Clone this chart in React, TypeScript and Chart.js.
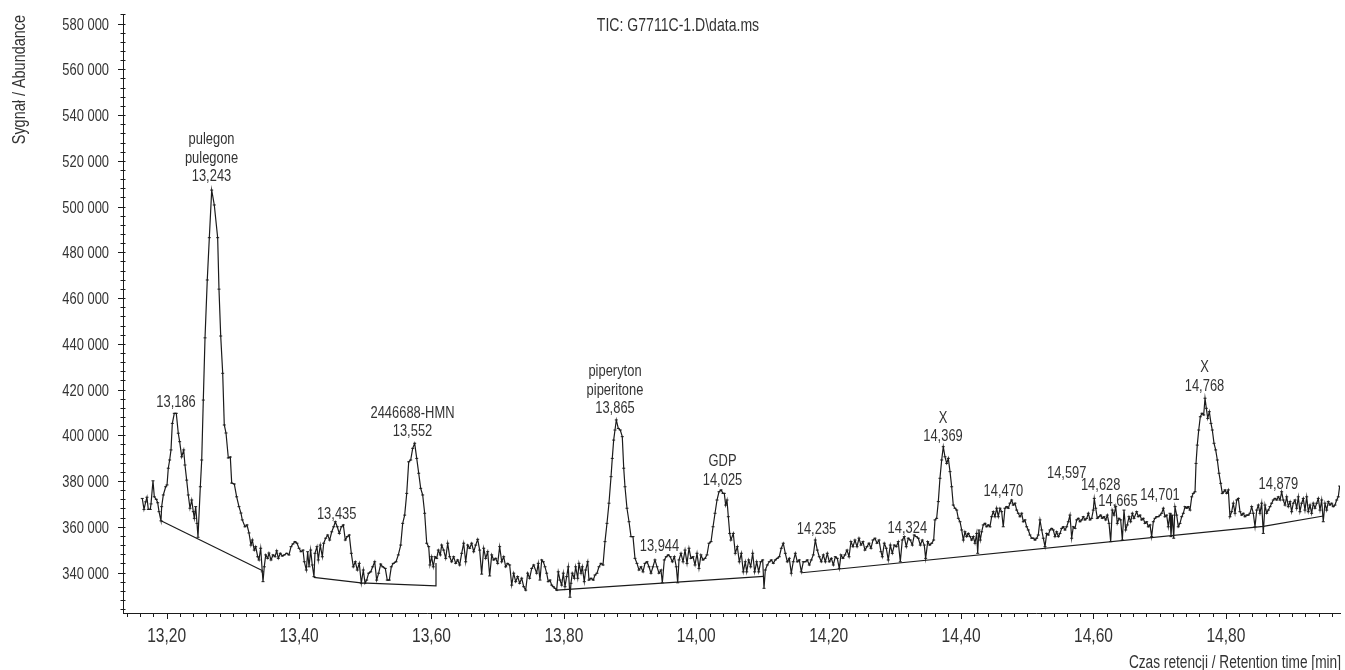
import React, { useEffect, useRef } from 'react';
import { Chart, registerables } from 'chart.js';

Chart.register(...registerables);

// Retention time [min]
const retentionTimes = [
  13.1631,13.1657,13.1683,13.1702,13.1722,13.1752,13.1763,13.1793,13.1813,13.1843,
  13.1864,13.1884,13.1914,13.1924,13.1949,13.1985,13.2005,13.2024,13.2045,13.2065,
  13.2085,13.2115,13.2145,13.2175,13.2196,13.2227,13.2257,13.2276,13.2302,13.2326,
  13.2352,13.2378,13.2402,13.2417,13.2438,13.2458,13.2473,13.2508,13.2529,13.2553,
  13.2579,13.2613,13.2644,13.2680,13.2719,13.2770,13.2790,13.2816,13.2846,13.2870,
  13.2896,13.2931,13.2961,13.2982,13.3021,13.3057,13.3092,13.3122,13.3142,13.3183,
  13.3213,13.3243,13.3273,13.3293,13.3323,13.3344,13.3375,13.3394,13.3420,13.3444,
  13.3455,13.3474,13.3496,13.3526,13.3545,13.3576,13.3606,13.3636,13.3662,13.3686,
  13.3716,13.3746,13.3776,13.3813,13.3847,13.3878,13.3908,13.3938,13.3968,13.3999,
  13.4029,13.4059,13.4079,13.4109,13.4130,13.4150,13.4175,13.4199,13.4225,13.4240,
  13.4270,13.4290,13.4320,13.4351,13.4372,13.4402,13.4432,13.4462,13.4493,13.4523,
  13.4547,13.4577,13.4607,13.4638,13.4668,13.4698,13.4728,13.4758,13.4789,13.4819,
  13.4849,13.4879,13.4909,13.4940,13.4970,13.4996,13.5021,13.5051,13.5082,13.5112,
  13.5142,13.5172,13.5202,13.5233,13.5263,13.5302,13.5332,13.5363,13.5393,13.5423,
  13.5464,13.5499,13.5535,13.5565,13.5595,13.5626,13.5656,13.5686,13.5716,13.5746,
  13.5777,13.5807,13.5837,13.5867,13.5897,13.5928,13.5958,13.5977,13.6003,13.6027,
  13.6053,13.6079,13.6103,13.6133,13.6154,13.6184,13.6215,13.6245,13.6275,13.6305,
  13.6335,13.6366,13.6396,13.6426,13.6456,13.6486,13.6517,13.6547,13.6577,13.6607,
  13.6638,13.6668,13.6698,13.6728,13.6758,13.6789,13.6819,13.6849,13.6879,13.6910,
  13.6940,13.6970,13.7000,13.7030,13.7061,13.7091,13.7121,13.7151,13.7181,13.7212,
  13.7242,13.7272,13.7302,13.7332,13.7363,13.7393,13.7423,13.7453,13.7483,13.7514,
  13.7544,13.7589,13.7613,13.7639,13.7665,13.7689,13.7715,13.7740,13.7764,13.7790,
  13.7816,13.7840,13.7866,13.7891,13.7915,13.7941,13.7967,13.7991,13.8017,13.8042,
  13.8066,13.8092,13.8107,13.8127,13.8157,13.8178,13.8209,13.8228,13.8259,13.8278,
  13.8308,13.8329,13.8360,13.8379,13.8410,13.8444,13.8470,13.8500,13.8530,13.8561,
  13.8591,13.8621,13.8651,13.8681,13.8712,13.8731,13.8752,13.8772,13.8792,13.8822,
  13.8852,13.8882,13.8904,13.8923,13.8953,13.8984,13.9014,13.9044,13.9074,13.9104,
  13.9135,13.9165,13.9195,13.9225,13.9256,13.9286,13.9316,13.9346,13.9376,13.9407,
  13.9437,13.9467,13.9487,13.9517,13.9547,13.9577,13.9607,13.9638,13.9668,13.9698,
  13.9719,13.9739,13.9769,13.9800,13.9830,13.9860,13.9890,13.9920,13.9951,13.9981,
  14.0011,14.0041,14.0071,14.0102,14.0132,14.0162,14.0192,14.0223,14.0253,14.0283,
  14.0313,14.0343,14.0374,14.0404,14.0423,14.0444,14.0464,14.0484,14.0505,14.0524,
  14.0559,14.0589,14.0620,14.0650,14.0680,14.0710,14.0740,14.0762,14.0792,14.0822,
  14.0852,14.0882,14.0913,14.0943,14.0973,14.1003,14.1023,14.1043,14.1073,14.1103,
  14.1133,14.1163,14.1194,14.1224,14.1254,14.1284,14.1314,14.1345,14.1375,14.1405,
  14.1435,14.1465,14.1496,14.1526,14.1556,14.1586,14.1617,14.1647,14.1677,14.1707,
  14.1737,14.1768,14.1798,14.1828,14.1858,14.1888,14.1919,14.1949,14.1979,14.2009,
  14.2040,14.2070,14.2100,14.2130,14.2160,14.2186,14.2216,14.2246,14.2277,14.2307,
  14.2337,14.2367,14.2397,14.2428,14.2458,14.2488,14.2518,14.2548,14.2579,14.2609,
  14.2639,14.2669,14.2699,14.2730,14.2760,14.2790,14.2810,14.2840,14.2870,14.2900,
  14.2931,14.2961,14.2991,14.3021,14.3051,14.3082,14.3112,14.3142,14.3172,14.3203,
  14.3233,14.3263,14.3293,14.3323,14.3354,14.3384,14.3414,14.3444,14.3465,14.3496,
  14.3526,14.3556,14.3586,14.3606,14.3631,14.3656,14.3681,14.3707,14.3731,14.3757,
  14.3783,14.3807,14.3833,14.3858,14.3882,14.3908,14.3934,14.3958,14.3984,14.4009,
  14.4034,14.4059,14.4085,14.4109,14.4135,14.4160,14.4184,14.4210,14.4236,14.4251,
  14.4270,14.4290,14.4311,14.4335,14.4361,14.4386,14.4410,14.4436,14.4462,14.4486,
  14.4512,14.4538,14.4562,14.4588,14.4613,14.4637,14.4663,14.4689,14.4713,14.4739,
  14.4764,14.4788,14.4814,14.4840,14.4864,14.4890,14.4916,14.4940,14.4965,14.4991,
  14.5015,14.5041,14.5067,14.5091,14.5117,14.5142,14.5166,14.5192,14.5218,14.5242,
  14.5268,14.5293,14.5318,14.5343,14.5369,14.5393,14.5419,14.5444,14.5469,14.5494,
  14.5520,14.5544,14.5570,14.5595,14.5620,14.5645,14.5671,14.5695,14.5721,14.5747,
  14.5771,14.5797,14.5822,14.5846,14.5872,14.5898,14.5922,14.5948,14.5973,14.5997,
  14.6012,14.6034,14.6058,14.6084,14.6109,14.6133,14.6159,14.6185,14.6209,14.6235,
  14.6260,14.6284,14.6310,14.6336,14.6360,14.6386,14.6411,14.6436,14.6461,14.6487,
  14.6511,14.6537,14.6562,14.6587,14.6612,14.6653,14.6677,14.6703,14.6728,14.6752,
  14.6778,14.6804,14.6828,14.6854,14.6879,14.6904,14.6929,14.6955,14.6979,14.7005,
  14.7030,14.7055,14.7080,14.7106,14.7130,14.7156,14.7171,14.7191,14.7212,14.7231,
  14.7257,14.7281,14.7307,14.7333,14.7357,14.7383,14.7408,14.7432,14.7458,14.7484,
  14.7508,14.7534,14.7549,14.7568,14.7590,14.7614,14.7640,14.7665,14.7685,14.7705,
  14.7726,14.7750,14.7775,14.7795,14.7821,14.7846,14.7871,14.7896,14.7922,14.7946,
  14.7967,14.7987,14.8013,14.8037,14.8062,14.8088,14.8112,14.8138,14.8164,14.8188,
  14.8213,14.8239,14.8263,14.8289,14.8314,14.8339,14.8364,14.8390,14.8414,14.8440,
  14.8466,14.8490,14.8515,14.8541,14.8565,14.8591,14.8617,14.8641,14.8667,14.8692,
  14.8716,14.8742,14.8768,14.8792,14.8818,14.8843,14.8867,14.8893,14.8919,14.8943,
  14.8969,14.8994,14.9018,14.9044,14.9070,14.9094,14.9119,14.9145,14.9169,14.9195,
  14.9221,14.9245,14.9271,14.9296,14.9320,14.9346,14.9372,14.9396,14.9422,14.9447,
  14.9471,14.9497,14.9523,14.9547,14.9573,14.9598,14.9622,14.9648,14.9674,14.9698,14.9719,
];

// Abundance (thousands of counts)
const abundance = [
  372.4,367.6,370.9,372.9,367.6,367.6,370.0,380.1,373.1,372.0,
  370.5,366.6,362.6,368.8,373.9,377.5,378.3,385.6,389.2,393.6,
  405.2,409.6,409.6,400.9,397.2,390.6,393.6,387.0,380.4,373.9,
  368.1,371.7,366.6,363.7,368.8,361.5,355.4,377.5,389.2,415.4,
  442.6,467.9,486.4,507.2,500.7,486.4,463.9,443.4,427.1,404.5,
  401.0,390.1,390.5,379.1,378.7,373.1,368.8,366.0,363.0,360.0,
  360.8,357.3,352.0,354.2,349.8,351.3,346.9,345.5,350.6,340.3,
  336.0,342.5,347.7,346.2,348.5,345.5,347.7,346.9,349.5,346.2,
  348.4,347.2,347.7,348.4,347.7,351.3,352.5,353.5,352.8,350.6,
  349.1,349.8,344.7,341.1,349.1,342.5,349.8,343.3,338.2,348.4,
  351.3,345.5,352.0,346.9,352.8,355.0,356.4,354.2,357.8,360.0,
  362.2,360.0,357.1,360.0,360.8,354.2,355.7,356.4,348.4,342.5,
  344.7,341.1,344.0,335.3,341.1,335.3,336.7,339.7,340.3,342.5,
  344.7,336.7,339.7,343.7,342.5,341.8,336.7,336.7,342.5,344.0,
  344.7,347.7,352.0,361.5,365.1,374.6,388.4,389.2,394.3,396.5,
  389.9,383.4,376.8,373.9,365.9,352.8,351.3,343.3,346.9,342.5,
  346.9,346.2,349.8,347.7,352.0,349.8,346.2,352.8,346.9,344.7,
  346.9,344.0,345.5,343.3,348.4,352.8,344.7,352.0,350.6,352.8,
  349.1,352.0,354.5,349.8,339.3,350.6,346.2,349.1,338.5,347.7,
  345.5,346.2,344.0,351.3,344.7,346.9,342.5,344.0,343.3,334.5,
  339.7,336.0,338.2,335.3,337.5,333.8,332.3,339.7,337.5,341.8,
  343.3,339.7,344.0,336.7,345.5,344.7,342.5,339.7,336.0,336.7,
  334.5,333.8,333.1,332.3,340.3,336.7,334.5,339.7,333.8,338.2,
  342.5,329.2,335.3,339.7,337.5,342.5,337.5,344.0,339.7,342.5,
  336.0,341.1,344.7,336.7,337.5,336.7,338.9,339.7,342.5,344.0,
  343.3,353.5,361.5,370.3,381.9,389.9,397.9,402.3,406.7,403.0,
  402.3,399.4,385.6,377.5,368.1,362.2,355.7,355.7,346.2,344.0,
  341.1,342.5,340.3,344.0,344.7,342.5,339.7,342.5,345.5,342.5,
  339.7,341.1,335.5,345.5,346.9,347.7,346.9,344.7,346.9,342.5,
  335.5,345.5,348.4,344.7,349.8,344.0,350.6,346.2,346.9,343.3,
  348.4,341.8,347.7,345.5,346.2,347.7,352.8,353.5,360.0,365.9,
  371.7,375.3,376.1,374.6,374.6,369.5,371.7,364.4,357.1,354.2,
  357.1,348.4,351.3,344.7,348.4,340.3,344.7,340.3,345.5,342.5,
  348.4,340.3,344.7,340.3,344.7,345.5,333.1,341.1,343.3,344.7,
  345.5,344.0,345.5,346.2,346.9,350.6,352.8,348.4,344.7,346.2,
  339.7,344.7,348.4,344.7,345.5,340.3,344.7,344.7,345.5,343.3,
  345.5,347.7,354.2,349.8,346.9,344.7,347.7,344.7,348.4,344.7,
  346.2,343.3,346.9,346.2,341.8,347.7,346.2,347.7,349.8,346.9,
  353.5,351.3,354.2,351.3,355.0,352.0,353.5,349.8,351.3,352.8,
  350.6,354.2,355.0,352.8,354.2,349.1,346.9,352.8,350.6,345.5,
  352.0,348.4,352.0,351.3,353.5,344.7,354.2,355.7,351.3,355.0,
  354.2,352.0,356.4,355.7,355.0,352.0,354.2,352.0,346.2,353.5,
  352.0,352.8,354.2,363.0,363.7,371.0,381.2,389.2,395.0,390.6,
  387.7,389.9,384.1,377.5,369.5,368.1,367.3,363.7,362.2,358.6,
  354.2,357.8,355.7,357.1,355.7,354.2,355.7,352.8,357.1,348.4,
  358.6,354.2,357.8,360.8,361.5,360.0,360.8,360.0,364.4,366.6,
  364.4,368.1,364.4,368.1,366.6,360.0,368.1,368.8,368.1,370.3,
  371.7,369.5,370.3,367.3,365.9,364.4,365.9,362.2,363.0,360.0,
  358.6,356.4,355.0,355.0,354.2,355.0,356.4,363.0,358.6,355.0,
  351.3,357.1,356.4,358.6,359.3,358.6,355.7,357.8,355.7,357.1,
  359.3,360.0,358.6,360.0,362.2,365.1,355.0,360.0,359.3,363.0,
  363.7,362.2,363.0,364.4,363.0,363.7,365.9,363.0,363.7,367.3,
  372.4,368.1,363.7,364.4,365.1,363.7,364.4,363.0,365.1,361.5,
  353.5,367.3,365.1,368.8,361.5,363.7,363.0,354.2,367.3,358.6,
  360.8,364.4,362.2,365.9,363.7,366.6,364.4,365.1,363.0,363.7,
  361.5,362.2,360.0,360.8,355.7,362.2,363.7,364.4,364.4,365.1,
  365.9,368.1,364.4,365.1,360.0,365.9,355.7,365.1,355.0,368.8,
  365.1,360.0,361.5,364.4,365.9,368.8,368.1,368.8,367.3,373.1,
  374.6,375.3,387.7,395.7,402.3,408.1,409.6,408.9,416.2,411.8,
  407.4,410.3,405.2,402.3,396.5,393.6,389.2,383.4,379.0,374.6,
  375.3,376.1,374.6,376.1,364.4,366.6,370.3,365.9,371.7,372.4,
  366.6,365.1,365.9,364.4,365.1,365.1,365.9,368.8,365.9,360.0,
  367.3,369.5,365.9,370.3,357.1,369.5,365.9,367.3,368.8,370.3,
  371.7,372.4,371.7,373.1,371.7,375.3,371.7,369.5,373.1,368.8,
  371.0,366.6,370.3,371.7,368.1,373.1,366.6,370.3,372.4,367.3,
  373.1,366.6,369.5,365.9,370.3,368.1,370.3,372.4,367.3,371.7,
  362.2,370.3,367.3,371.0,369.5,370.3,368.8,369.5,371.7,373.1,377.8,
];

// Integration baselines
const baseline1Times = [13.1914, 13.3450];
const baseline1Values = [362.6, 340.8];
const baseline2Times = [13.4221, 13.4935, 13.6068, 13.6068];
const baseline2Values = [337.9, 335.5, 334.2, 344.2];
const baseline3Times = [13.7891, 14.1016];
const baseline3Values = [332.3, 338.3];
const baseline4Times = [14.1592, 14.8566, 14.9472];
const baseline4Values = [339.9, 360.2, 364.7];

// Axis tick labels
const xTickValues = [13.2, 13.4, 13.6, 13.8, 14.0, 14.2, 14.4, 14.6, 14.8];
const yTickValues = [340, 360, 380, 400, 420, 440, 460, 480, 500, 520, 540, 560, 580];

// Peak annotations (text lines, anchored at the last line)
const peakLabelLines = [
  ['13,186'],
  ['pulegon', 'pulegone', '13,243'],
  ['13,435'],
  ['2446688-HMN', '13,552'],
  ['piperyton', 'piperitone', '13,865'],
  ['13,944'],
  ['GDP', '14,025'],
  ['14,235'],
  ['14,324'],
  ['X', '14,369'],
  ['14,470'],
  ['14,597'],
  ['14,628'],
  ['14,665'],
  ['14,701'],
  ['X', '14,768'],
  ['14,879'],
];
const peakLabelTimes = [
  13.2141, 13.2677, 13.4568, 13.5713, 13.8772, 13.9444, 14.0396, 14.1816, 14.3188,
  14.3727, 14.4638, 14.5596, 14.6109, 14.6370, 14.7005, 14.7677, 14.8792,
];
const peakLabelValues = [
  415.2, 513.8, 366.1, 402.3, 412.3, 352.0, 380.9, 359.6, 360.0,
  400.1, 376.1, 384.1, 378.6, 371.7, 374.2, 422.0, 379.0,
];

const chartTitle = 'TIC: G7711C-1.D\\data.ms';
const xTitle = 'Czas retencji / Retention time [min]';
const yTitle = 'Sygnał / Abundance';

const FONT = '"Liberation Sans", Arial, Helvetica, sans-serif';
const CONDENSE = 0.76;
const INK = '#1b1b1b';
const TEXT = '#333333';

const toPoints = (xs: number[], ys: number[]) => xs.map((x, i) => ({ x, y: ys[i] }));

function drawText(
  ctx: CanvasRenderingContext2D,
  text: string,
  x: number,
  y: number,
  size: number,
  align: CanvasTextAlign,
  rotate = 0,
) {
  ctx.save();
  ctx.translate(x, y);
  if (rotate) ctx.rotate(rotate);
  ctx.scale(CONDENSE, 1);
  ctx.font = `${size}px ${FONT}`;
  ctx.textAlign = align;
  ctx.textBaseline = 'alphabetic';
  ctx.fillText(text, 0, 0);
  ctx.restore();
}

const decorPlugin = {
  id: 'decor',
  afterDraw(chart: any) {
    const ctx = chart.ctx as CanvasRenderingContext2D;
    const xs = chart.scales.x;
    const ys = chart.scales.y;
    const { left, right, top, bottom } = chart.chartArea;
    ctx.save();
    ctx.strokeStyle = INK;
    ctx.lineWidth = 1;
    ctx.beginPath();
    // y minor/major tick marks every 4 000
    for (let k = 81; k <= 146; k++) {
      const v = k * 4;
      const py = Math.round(ys.getPixelForValue(v)) + 0.5;
      const major = v % 20 === 0;
      ctx.moveTo(left - (major ? 5 : 2.5), py);
      ctx.lineTo(left + 2.5, py);
    }
    // x minor/major tick marks every 0.02 min
    for (let k = 657; k <= 748; k++) {
      const t = k / 50;
      const px = Math.round(xs.getPixelForValue(t)) + 0.5;
      const major = k % 10 === 0;
      ctx.moveTo(px, bottom);
      ctx.lineTo(px, bottom + (major ? 6 : 4));
    }
    ctx.stroke();

    ctx.fillStyle = TEXT;
    // y tick labels
    yTickValues.forEach((v) => {
      drawText(ctx, `${v} 000`, left - 14, ys.getPixelForValue(v) + 6, 17, 'right');
    });
    // x tick labels
    xTickValues.forEach((v) => {
      drawText(ctx, v.toFixed(2).replace('.', ','), xs.getPixelForValue(v), bottom + 29, 20.5, 'center');
    });
    // axis titles
    drawText(ctx, xTitle, right + 1, 668, 18, 'right');
    drawText(ctx, yTitle, 25, top + 1, 19, 'right', -Math.PI / 2);
    // chart title
    drawText(ctx, chartTitle, 678, 31, 18.5, 'center');

    // peak labels
    const lineH = 18.5;
    peakLabelLines.forEach((lines, i) => {
      const px = xs.getPixelForValue(peakLabelTimes[i]);
      const py = ys.getPixelForValue(peakLabelValues[i]) + 6;
      const n = lines.length;
      lines.forEach((s, j) => {
        drawText(ctx, s, px, py - (n - 1 - j) * lineH, 17, 'center');
      });
    });
    ctx.restore();
  },
};

export default function App() {
  const ref = useRef<HTMLCanvasElement>(null);
  useEffect(() => {
    const canvas = ref.current;
    if (!canvas) return;
    const baseStyle = {
      borderColor: INK,
      borderWidth: 1.2,
      pointRadius: 0,
      pointHoverRadius: 0,
      tension: 0,
      fill: false,
    };
    const chart = new Chart(canvas, {
      type: 'line',
      data: {
        datasets: [
          {
            data: toPoints(retentionTimes, abundance),
            borderColor: INK,
            borderWidth: 1.2,
            pointStyle: 'line',
            pointRadius: 1.5,
            pointBorderColor: INK,
            pointBorderWidth: 1,
            pointHoverRadius: 0,
            tension: 0,
            fill: false,
          },
          { ...baseStyle, data: toPoints(baseline1Times, baseline1Values) },
          { ...baseStyle, data: toPoints(baseline2Times, baseline2Values) },
          { ...baseStyle, data: toPoints(baseline3Times, baseline3Values) },
          { ...baseStyle, data: toPoints(baseline4Times, baseline4Values) },
        ],
      },
      options: {
        animation: false,
        responsive: false,
        devicePixelRatio: 1,
        events: [],
        layout: { padding: { left: 0, right: 5, top: 14, bottom: 0 } },
        plugins: {
          legend: { display: false },
          tooltip: { enabled: false },
          title: { display: false },
        },
        scales: {
          x: {
            type: 'linear',
            min: 13.134,
            max: 14.9724,
            grid: { display: false, drawTicks: false },
            border: { display: true, color: INK, width: 1 },
            afterBuildTicks: (s: any) => {
              s.ticks = xTickValues.map((v) => ({ value: v }));
            },
            afterFit: (s: any) => {
              s.height = 57;
            },
            ticks: { display: false },
            title: { display: false },
          },
          y: {
            type: 'linear',
            min: 322.3,
            max: 584.2,
            grid: { display: false, drawTicks: false },
            border: { display: true, color: INK, width: 1 },
            afterBuildTicks: (s: any) => {
              s.ticks = yTickValues.map((v) => ({ value: v }));
            },
            afterFit: (s: any) => {
              s.width = 123;
            },
            ticks: { display: false },
            title: { display: false },
          },
        },
      },
      plugins: [decorPlugin],
    } as any);
    return () => chart.destroy();
  }, []);

  return (
    <div style={{ position: 'absolute', left: 0, top: 0, width: 1345, height: 670, background: '#fff' }}>
      <canvas ref={ref} width={1345} height={670} style={{ width: 1345, height: 670, display: 'block' }} />
    </div>
  );
}
